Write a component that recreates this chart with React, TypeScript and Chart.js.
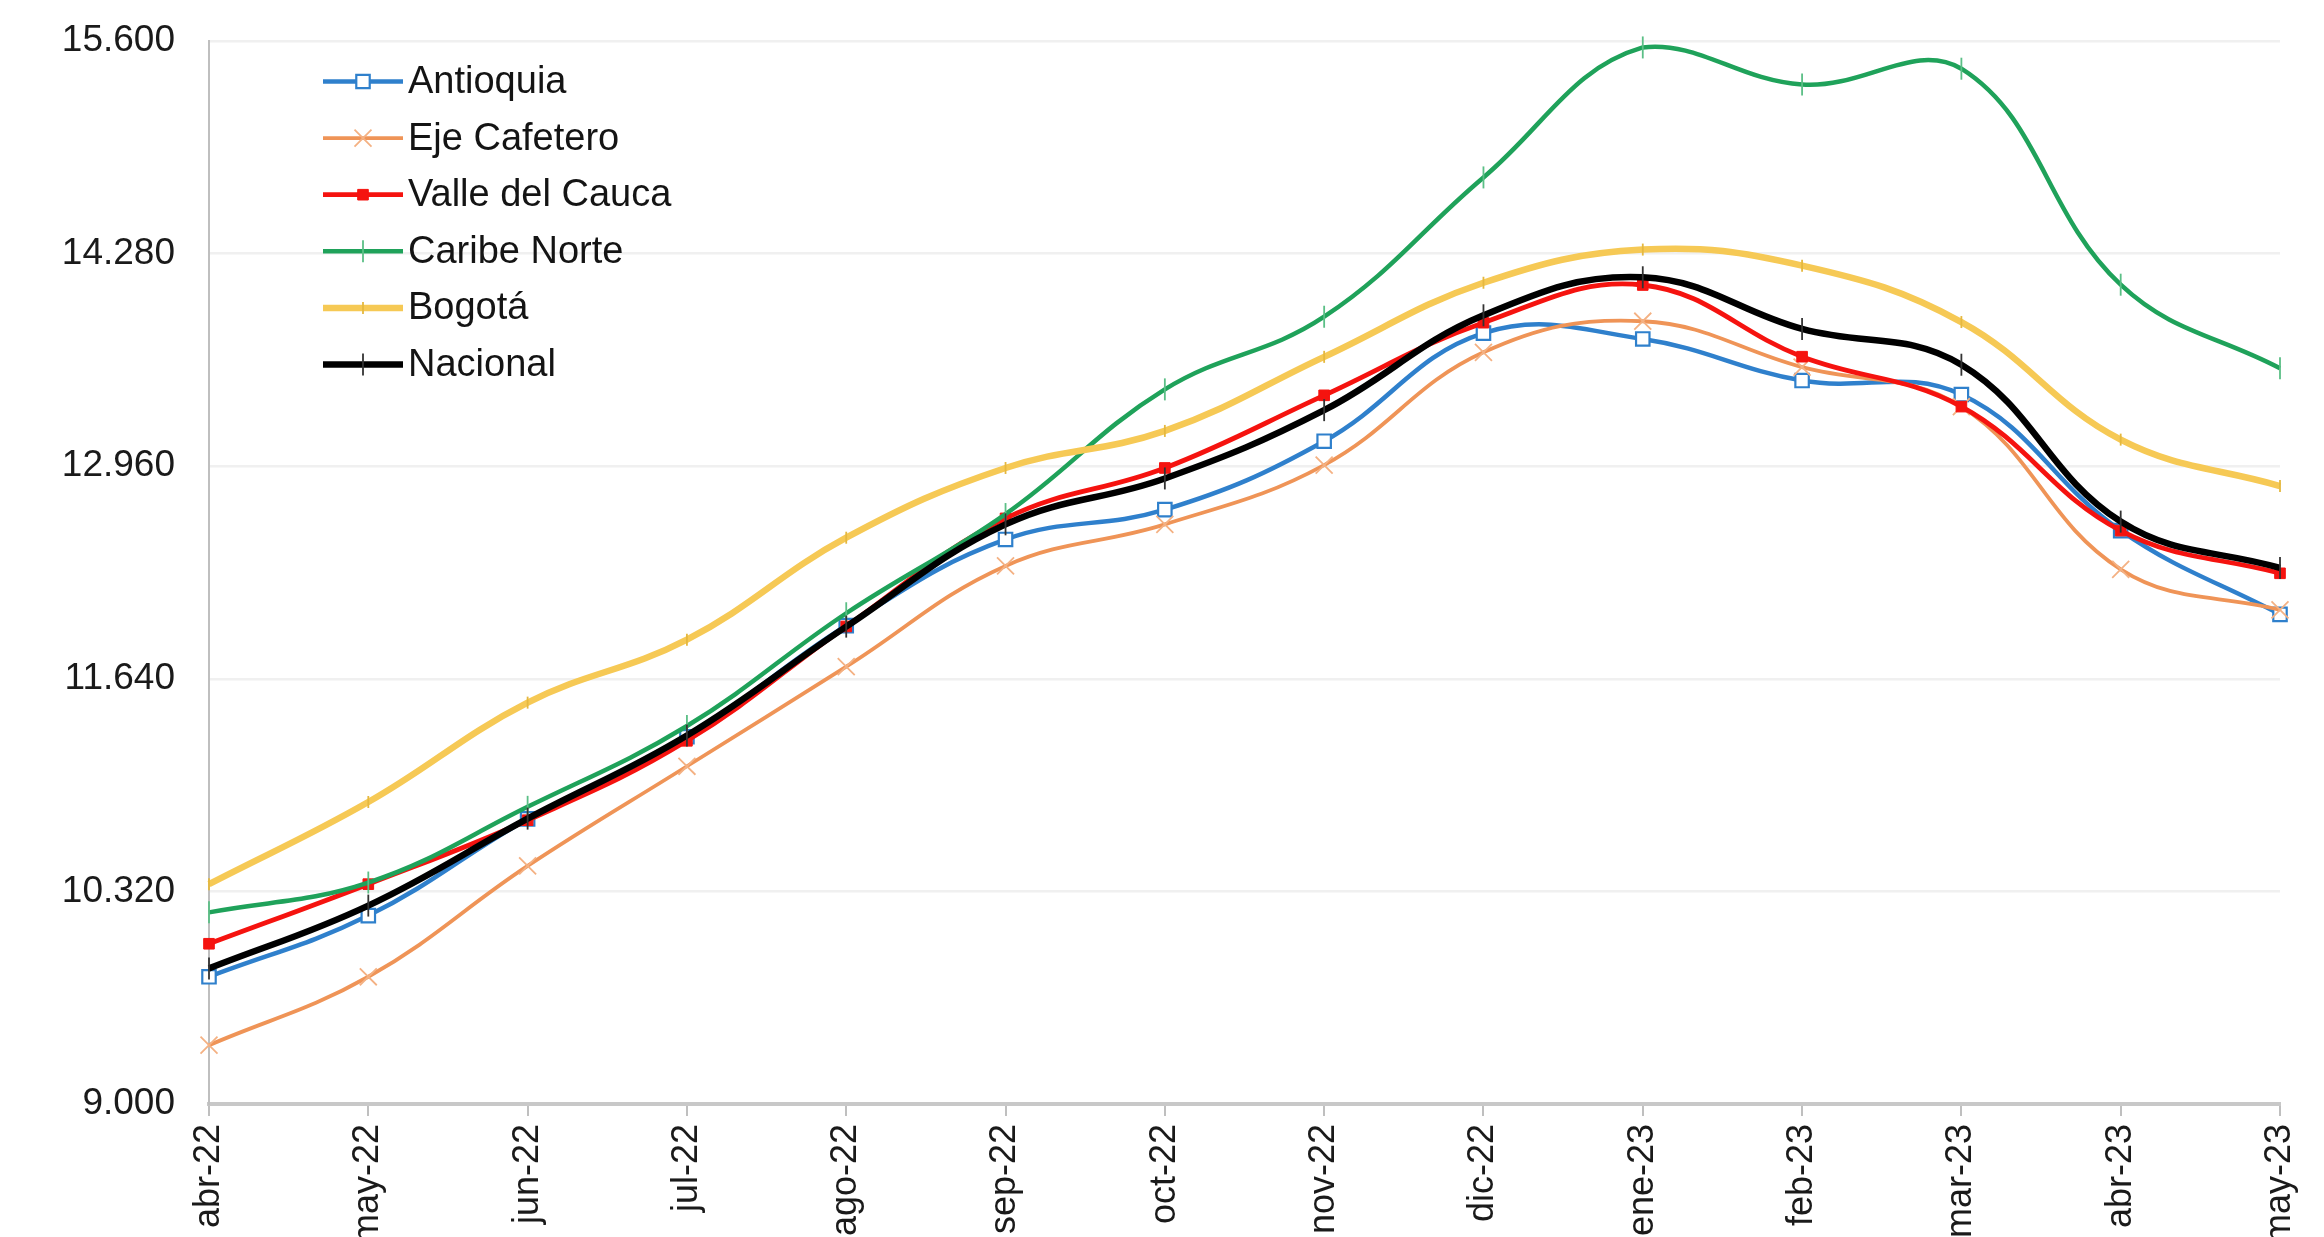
import React, { useEffect, useRef } from 'react';
import { Chart, registerables } from 'chart.js';

Chart.register(...registerables);

const categories = ['abr-22', 'may-22', 'jun-22', 'jul-22', 'ago-22', 'sep-22', 'oct-22', 'nov-22', 'dic-22', 'ene-23', 'feb-23', 'mar-23', 'abr-23', 'may-23'];

const antioquia = [9790, 10170, 10770, 11280, 11970, 12505, 12690, 13115, 13786, 13750, 13492, 13405, 12560, 12040];
const ejeCafetero = [9365, 9790, 10478, 11097, 11715, 12341, 12599, 12967, 13667, 13860, 13575, 13330, 12320, 12068];
const valleDelCauca = [9995, 10365, 10762, 11255, 11965, 12636, 12949, 13400, 13851, 14085, 13640, 13330, 12560, 12295];
const caribeNorte = [10190, 10375, 10845, 11347, 12047, 12663, 13437, 13888, 14753, 15560, 15330, 15428, 14087, 13568];
const bogota = [10365, 10875, 11492, 11883, 12516, 12949, 13179, 13639, 14099, 14305, 14205, 13855, 13125, 12837];
const nacional = [9842, 10232, 10772, 11288, 11964, 12599, 12884, 13308, 13897, 14133, 13812, 13590, 12616, 12328];

const yMin = 9000;
const yMax = 15600;
const yStep = 1320;

const FONT = '"Liberation Sans", Arial, Helvetica, sans-serif';

const formatThousands = (v: number) =>
  Math.round(v).toString().replace(/\B(?=(\d{3})+(?!\d))/g, '.');

function drawMarker(ctx: CanvasRenderingContext2D, ds: any, x: number, y: number) {
  const style = ds.pointStyle;
  const r = ds.pointRadius;
  const rot = ((ds.pointRotation || 0) * Math.PI) / 180;
  ctx.save();
  ctx.lineWidth = ds.pointBorderWidth;
  ctx.strokeStyle = ds.pointBorderColor;
  ctx.fillStyle = ds.pointBackgroundColor;
  ctx.beginPath();
  if (style === 'rect') {
    const s = Math.SQRT1_2 * r;
    ctx.rect(x - s, y - s, 2 * s, 2 * s);
    ctx.fill();
    ctx.stroke();
  } else if (style === 'crossRot') {
    const o = Math.SQRT1_2 * r;
    ctx.moveTo(x - o, y - o);
    ctx.lineTo(x + o, y + o);
    ctx.moveTo(x - o, y + o);
    ctx.lineTo(x + o, y - o);
    ctx.stroke();
  } else if (style === 'line') {
    const dx = Math.cos(rot) * r;
    const dy = Math.sin(rot) * r;
    ctx.moveTo(x - dx, y - dy);
    ctx.lineTo(x + dx, y + dy);
    ctx.stroke();
  }
  ctx.restore();
}

const LEGEND_X0 = 323;
const LEGEND_X1 = 403;
const LEGEND_TOP = 81.5;
const LEGEND_STEP = 56.6;

const insideLegend = {
  id: 'insideLegend',
  afterDraw(chart: any) {
    const ctx: CanvasRenderingContext2D = chart.ctx;
    ctx.save();
    chart.data.datasets.forEach((ds: any, i: number) => {
      const y = LEGEND_TOP + i * LEGEND_STEP;
      ctx.strokeStyle = ds.borderColor;
      ctx.lineWidth = ds.borderWidth;
      ctx.beginPath();
      ctx.moveTo(LEGEND_X0, y);
      ctx.lineTo(LEGEND_X1, y);
      ctx.stroke();
      drawMarker(ctx, ds, (LEGEND_X0 + LEGEND_X1) / 2, y);
      ctx.fillStyle = '#141414';
      ctx.font = `38px ${FONT}`;
      ctx.textAlign = 'left';
      ctx.textBaseline = 'middle';
      ctx.fillText(ds.label, LEGEND_X1 + 5, y + 1);
    });
    ctx.restore();
  },
};

export default function App() {
  const canvasRef = useRef<HTMLCanvasElement | null>(null);

  useEffect(() => {
    document.body.style.margin = '0';
    const canvas = canvasRef.current;
    if (!canvas) return;

    const mk = (label: string, data: number[], color: string, width: number, point: any, order: number) => ({
      label,
      data,
      borderColor: color,
      backgroundColor: color,
      borderWidth: width,
      tension: 0.4,
      fill: false,
      clip: false as any,
      order,
      ...point,
    });

    const chart = new Chart(canvas, {
      type: 'line',
      data: {
        labels: categories,
        datasets: [
          mk('Antioquia', antioquia, '#2F80CC', 4.5, {
            pointStyle: 'rect', pointRadius: 9.5, pointBackgroundColor: '#ffffff', pointBorderColor: '#2F80CC', pointBorderWidth: 2.2,
          }, -1),
          mk('Eje Cafetero', ejeCafetero, '#EF9457', 3.8, {
            pointStyle: 'crossRot', pointRadius: 12, pointBackgroundColor: '#F4B183', pointBorderColor: '#F4B183', pointBorderWidth: 1.8,
          }, -2),
          mk('Valle del Cauca', valleDelCauca, '#F5130F', 4.8, {
            pointStyle: 'rect', pointRadius: 7.5, pointBackgroundColor: '#F5130F', pointBorderColor: '#F5130F', pointBorderWidth: 1,
          }, -3),
          mk('Caribe Norte', caribeNorte, '#1FA25A', 4.5, {
            pointStyle: 'line', pointRotation: 90, pointRadius: 11, pointBackgroundColor: '#1FA25A', pointBorderColor: '#5BBF86', pointBorderWidth: 1.8,
          }, -4),
          mk('Bogotá', bogota, '#F6C955', 6.5, {
            pointStyle: 'line', pointRotation: 90, pointRadius: 6, pointBackgroundColor: '#F6C955', pointBorderColor: '#E5B83F', pointBorderWidth: 1.8,
          }, -5),
          mk('Nacional', nacional, '#000000', 6.5, {
            pointStyle: 'line', pointRotation: 90, pointRadius: 11, pointBackgroundColor: '#000000', pointBorderColor: '#333333', pointBorderWidth: 1.8,
          }, -6),
        ],
      },
      options: {
        responsive: false,
        animation: false,
        devicePixelRatio: 1,
        layout: { padding: { top: 41, right: 44, left: 0, bottom: 0 } },
        plugins: {
          legend: { display: false },
          tooltip: { enabled: false },
        },
        scales: {
          x: {
            offset: false,
            grid: {
              display: true,
              drawOnChartArea: false,
              drawTicks: true,
              tickLength: 12,
              color: '#BFBFBF',
              lineWidth: 2,
            },
            border: { display: true, color: '#C8C8C8', width: 4 },
            ticks: {
              autoSkip: false,
              minRotation: 90,
              maxRotation: 90,
              padding: 8,
              color: '#1a1a1a',
              font: { family: FONT, size: 36, lineHeight: 1.0 },
            },
            afterFit: (scale: any) => {
              scale.height = 133;
            },
          },
          y: {
            min: yMin,
            max: yMax,
            grid: {
              color: '#F0F0F0',
              lineWidth: 2.5,
              drawTicks: true,
              tickLength: 34,
              tickColor: 'rgba(0,0,0,0)',
            },
            border: { display: true, color: '#BFBFBF', width: 2 },
            ticks: {
              stepSize: yStep,
              padding: 0,
              color: '#1a1a1a',
              font: { family: FONT, size: 37 },
              callback: (v: any) => formatThousands(Number(v)),
            },
            afterFit: (scale: any) => {
              scale.width = 209;
            },
          },
        },
      },
      plugins: [insideLegend],
    });

    return () => chart.destroy();
  }, []);

  return (
    <div style={{ position: 'absolute', left: 0, top: 0, width: 2324, height: 1237, background: '#ffffff' }}>
      <canvas ref={canvasRef} width={2324} height={1237} />
    </div>
  );
}
